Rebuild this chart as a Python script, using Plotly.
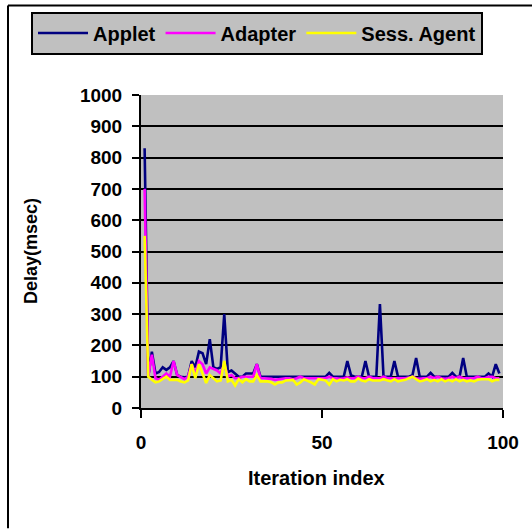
import plotly.graph_objects as go

iterations = list(range(1, 100))

applet = [830, 100, 180, 110, 115, 130, 122, 130, 150, 105,
          100, 98, 100, 150, 130, 180, 175, 140, 220, 130,
          125, 130, 300, 115, 120, 110, 100, 100, 110, 110,
          110, 140, 100, 100, 100, 100, 100, 100, 100, 100,
          100, 100, 100, 100, 100, 100, 100, 100, 100, 100,
          100, 112, 100, 100, 100, 100, 150, 105, 100, 100,
          100, 150, 100, 100, 100, 332, 100, 100, 100, 150,
          100, 100, 100, 100, 105, 160, 100, 100, 100, 112,
          100, 100, 100, 100, 100, 112, 100, 100, 160, 100,
          100, 100, 100, 100, 100, 110, 100, 140, 110]

adapter = [700, 100, 170, 95, 90, 100, 110, 100, 150, 105,
           98, 92, 100, 140, 110, 150, 140, 110, 130, 125,
           120, 110, 140, 100, 105, 95, 95, 100, 100, 100,
           100, 140, 95, 95, 95, 93, 90, 92, 95, 95,
           95, 92, 95, 100, 95, 95, 95, 93, 95, 95,
           95, 100, 95, 95, 93, 95, 98, 95, 95, 100,
           95, 95, 100, 95, 95, 95, 100, 95, 95, 95,
           93, 95, 95, 97, 100, 95, 93, 95, 95, 100,
           95, 100, 95, 93, 95, 100, 95, 100, 95, 95,
           95, 95, 100, 95, 95, 100, 100, 95, 95]

sess_agent = [550, 100, 90, 82, 85, 92, 100, 90, 90, 90,
              85, 82, 88, 140, 95, 140, 110, 80, 105, 95,
              85, 88, 150, 85, 90, 72, 92, 82, 92, 85,
              85, 105, 85, 85, 85, 82, 75, 82, 82, 88,
              90, 90, 75, 82, 92, 88, 82, 75, 92, 90,
              88, 75, 92, 85, 90, 88, 92, 85, 85, 95,
              88, 85, 92, 88, 88, 88, 92, 88, 85, 92,
              85, 88, 90, 95, 100, 92, 85, 88, 92, 85,
              90, 85, 92, 85, 90, 85, 92, 85, 90, 85,
              88, 85, 90, 92, 92, 92, 85, 90, 90]

series_names = ["Applet", "Adapter", "Sess. Agent"]
series_colors = ["#000080", "#FF00FF", "#FFFF00"]
series_values = [applet, adapter, sess_agent]

y_ticks = list(range(0, 1001, 100))
x_ticks = [0, 50, 100]

FONT = "Liberation Sans, Arial, Helvetica, sans-serif"

fig = go.Figure()
for name, color, vals in zip(series_names, series_colors, series_values):
    fig.add_trace(go.Scatter(x=iterations, y=vals, mode="lines", name=name,
                             line=dict(color=color, width=2.6)))

W, H = 532, 529
L, R, T, B = 141, 29, 93, 121
pw, ph = W - L - R, H - T - B

def px(x):
    return (x - L) / pw

def py(y):
    return (H - B - y) / ph

fig.update_layout(
    width=W, height=H,
    margin=dict(l=L, r=R, t=T, b=B, pad=0),
    paper_bgcolor="white",
    plot_bgcolor="#C0C0C0",
    font=dict(family=FONT, color="black", size=19, weight="bold"),
    showlegend=True,
    legend=dict(
        orientation="h",
        x=px(31), y=py(9), xanchor="left", yanchor="top",
        bgcolor="#C0C0C0", bordercolor="black", borderwidth=2,
        font=dict(family=FONT, size=20, color="black", weight="bold"),
        itemwidth=50,
        tracegroupgap=0,
    ),
    xaxis=dict(
        range=[0, 100], tickvals=x_ticks, ticktext=[str(v) for v in x_ticks],
        showgrid=False, zeroline=False,
        showline=True, linecolor="black", linewidth=2,
        ticks="outside", ticklen=8, tickwidth=2, tickcolor="black",
        tickfont=dict(family=FONT, size=19, color="black", weight="bold"),
        ticklabelstandoff=8,
    ),
    yaxis=dict(
        range=[0, 1000], tickvals=y_ticks, ticktext=[str(v) for v in y_ticks],
        showgrid=True, gridcolor="black", gridwidth=2,
        zeroline=False,
        showline=True, linecolor="black", linewidth=2,
        ticks="outside", ticklen=7, tickwidth=2, tickcolor="black",
        tickfont=dict(family=FONT, size=19, color="black", weight="bold"),
        ticklabelstandoff=6,
    ),
    shapes=[
        dict(type="line", xref="paper", yref="paper",
             x0=px(8), x1=px(W), y0=py(3), y1=py(3),
             line=dict(color="black", width=2), layer="below"),
        dict(type="line", xref="paper", yref="paper",
             x0=px(8), x1=px(8), y0=py(3), y1=py(H),
             line=dict(color="black", width=2), layer="below"),
    ],
    annotations=[
        dict(text="Iteration index", xref="paper", yref="paper",
             x=px(316), y=py(478), xanchor="center", yanchor="middle",
             showarrow=False,
             font=dict(family=FONT, size=20, color="black", weight="bold")),
        dict(text="Delay(msec)", xref="paper", yref="paper",
             x=px(31), y=py(250), xanchor="center", yanchor="middle",
             textangle=-90, showarrow=False,
             font=dict(family=FONT, size=18, color="black", weight="bold")),
    ],
)

fig.write_html("out.html")
